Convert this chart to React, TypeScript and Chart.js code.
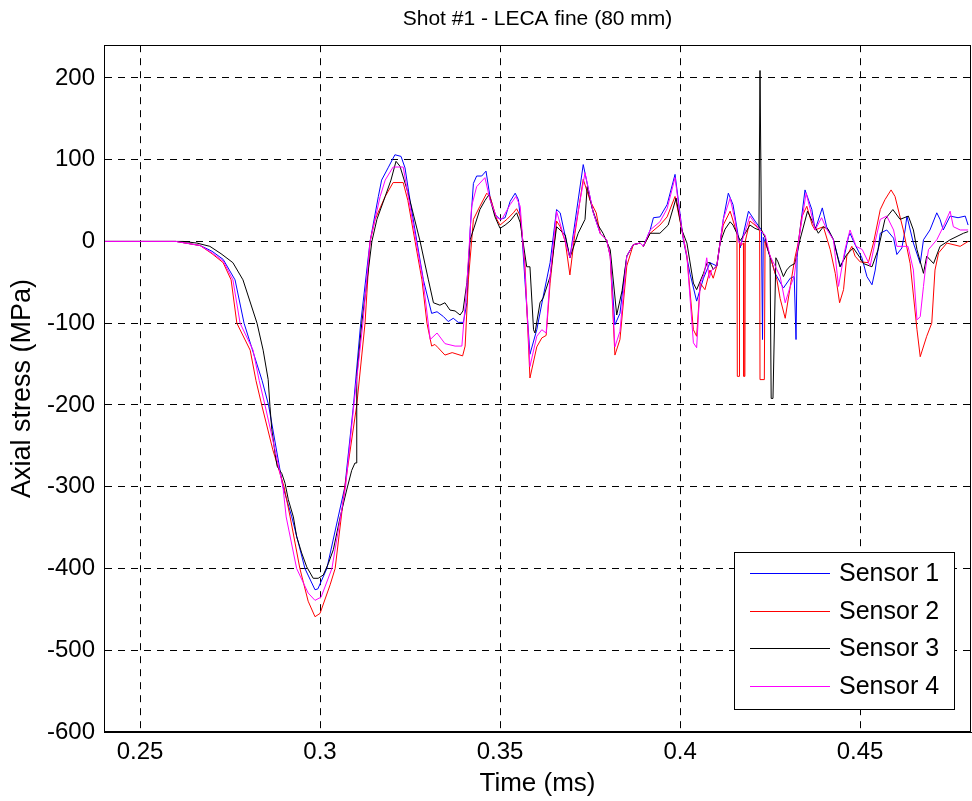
import React, { useEffect, useRef } from "react";
import { Chart, registerables } from "chart.js";

Chart.register(...registerables);

const chartTitle = "Shot #1 - LECA fine (80 mm)";
const xTitle = "Time (ms)";
const yTitle = "Axial stress (MPa)";
const seriesNames = ["Sensor 1", "Sensor 2", "Sensor 3", "Sensor 4"];
const seriesColors = ["#0000ff", "#ff0000", "#000000", "#ff00ff"];

const xTicks = [0.25, 0.3, 0.35, 0.4, 0.45];
const xTickLabels = ["0.25", "0.3", "0.35", "0.4", "0.45"];
const yTicks = [-600, -500, -400, -300, -200, -100, 0, 100, 200];
const yTickLabels = ["-600", "-500", "-400", "-300", "-200", "-100", "0", "100", "200"];

// Sensor 1
const time1 = [0.24, 0.26, 0.2667, 0.27, 0.2731, 0.2764, 0.2789, 0.2839, 0.2857, 0.2897, 0.2921, 0.2958, 0.2986, 0.2994, 0.3019, 0.3069, 0.3093, 0.3113, 0.3139, 0.3162, 0.3171, 0.3189, 0.3208, 0.3225, 0.3236, 0.325, 0.3269, 0.3287, 0.331, 0.3325, 0.3343, 0.3356, 0.337, 0.3384, 0.3398, 0.3408, 0.3417, 0.3426, 0.3435, 0.3449, 0.3461, 0.3472, 0.3486, 0.35, 0.3514, 0.3528, 0.3542, 0.3551, 0.356, 0.3569, 0.3583, 0.3602, 0.362, 0.3639, 0.3657, 0.3667, 0.3694, 0.3731, 0.3759, 0.3778, 0.3796, 0.3806, 0.3819, 0.3833, 0.3852, 0.387, 0.3889, 0.3898, 0.3917, 0.3926, 0.3944, 0.3964, 0.3986, 0.4009, 0.4028, 0.4046, 0.4065, 0.4083, 0.4102, 0.4111, 0.412, 0.4134, 0.4147, 0.4167, 0.419, 0.4208, 0.4226, 0.4229, 0.4231, 0.425, 0.4264, 0.4287, 0.4306, 0.4317, 0.4322, 0.4325, 0.4329, 0.4347, 0.4366, 0.4375, 0.4395, 0.4407, 0.4426, 0.444, 0.4446, 0.4454, 0.4468, 0.4472, 0.4486, 0.4505, 0.4519, 0.4533, 0.4542, 0.4556, 0.4574, 0.4593, 0.4602, 0.4616, 0.4625, 0.463, 0.4648, 0.4667, 0.4676, 0.4694, 0.4713, 0.4722, 0.4731, 0.475, 0.4772, 0.4792, 0.48];
const stress1 = [0, 0, -5, -12, -22, -47, -100, -170, -200, -300, -336, -400, -426, -425, -400, -300, -200, -100, 0, 55, 75, 90, 106, 104, 90, 50, 0, -47, -88, -86, -92, -98, -94, -99, -99, -75, 14, 71, 80, 80, 86, 55, 33, 27, 29, 49, 59, 51, 14, -47, -138, -108, -67, -26, 39, 35, -20, 94, 35, 10, 2, -18, -102, -88, -18, -4, -2, -6, 14, 29, 30, 45, 82, 2, -40, -73, -45, -26, -30, -2, 27, 59, 45, -8, 37, 25, 14, -120, 5, -18, -39, -57, -45, -43, -120, -20, 0, 63, 39, 14, 41, 18, 2, -22, -31, -22, 6, 10, -4, -20, -43, -53, -35, 10, 14, 4, -16, -8, 14, 31, -2, -27, 2, 14, 35, 27, 14, 31, 29, 31, 20];

// Sensor 2
const time2 = [0.24, 0.26, 0.2667, 0.27, 0.2731, 0.2753, 0.2769, 0.2806, 0.2822, 0.2838, 0.2869, 0.29, 0.2917, 0.2944, 0.2967, 0.2986, 0.3, 0.3028, 0.3042, 0.3069, 0.3102, 0.3125, 0.3139, 0.3153, 0.3181, 0.3203, 0.3231, 0.3244, 0.3264, 0.3283, 0.3297, 0.331, 0.3319, 0.3328, 0.3347, 0.3367, 0.3396, 0.3403, 0.3412, 0.3426, 0.3444, 0.3463, 0.3472, 0.3491, 0.35, 0.3519, 0.3537, 0.3546, 0.3556, 0.3569, 0.3583, 0.3602, 0.3616, 0.3628, 0.3639, 0.3657, 0.3667, 0.3681, 0.3694, 0.3708, 0.3731, 0.375, 0.3767, 0.3778, 0.3796, 0.3806, 0.3819, 0.3833, 0.3852, 0.387, 0.3889, 0.3898, 0.3917, 0.3944, 0.3964, 0.3986, 0.4005, 0.4019, 0.4037, 0.4046, 0.4056, 0.4069, 0.4083, 0.4092, 0.4102, 0.4111, 0.412, 0.4139, 0.4158, 0.4159, 0.4164, 0.4165, 0.4169, 0.4176, 0.4177, 0.418, 0.4181, 0.4194, 0.4208, 0.4221, 0.4222, 0.4234, 0.4236, 0.425, 0.4269, 0.4278, 0.4292, 0.4306, 0.4319, 0.4329, 0.4338, 0.4352, 0.4367, 0.4375, 0.4398, 0.4417, 0.4431, 0.4443, 0.4454, 0.4463, 0.4477, 0.4486, 0.45, 0.4523, 0.4537, 0.4556, 0.4569, 0.4586, 0.4597, 0.462, 0.4639, 0.4658, 0.4667, 0.4685, 0.4699, 0.4708, 0.4718, 0.4741, 0.4778, 0.48];
const stress2 = [0, 0, -5, -15, -26, -47, -100, -133, -170, -200, -255, -300, -337, -400, -440, -459, -455, -420, -400, -300, -200, -100, 0, 27, 55, 72, 72, 50, 0, -47, -100, -128, -126, -130, -139, -136, -140, -128, -47, 27, 43, 59, 55, 27, 20, 27, 35, 40, 31, -27, -167, -129, -118, -115, -51, 25, 18, 0, -41, 10, 76, 50, 35, 10, 2, -18, -139, -120, -30, -4, -2, -6, 10, 20, 30, 55, 14, -18, -108, -116, -51, -59, -35, -45, -30, -2, 20, 37, 10, -165, -165, 0, -5, -2, -165, -165, 0, 25, 20, 14, -169, -169, 0, -18, -47, -70, -94, -55, -20, 0, 30, 43, 20, 14, 18, -10, -39, -75, -59, -18, -6, -18, -25, -26, -2, 39, 51, 63, 55, 14, -27, -108, -141, -116, -100, -35, -14, -2, -6, 0];

// Sensor 3
const time3 = [0.24, 0.262, 0.2658, 0.2694, 0.2725, 0.2758, 0.2786, 0.2825, 0.2842, 0.2856, 0.2861, 0.2866, 0.2875, 0.2881, 0.2894, 0.2903, 0.2912, 0.2926, 0.2935, 0.2949, 0.2963, 0.2981, 0.2995, 0.3009, 0.3023, 0.3037, 0.3056, 0.3074, 0.3088, 0.3097, 0.3101, 0.3102, 0.3116, 0.3144, 0.3158, 0.3181, 0.3197, 0.3211, 0.3222, 0.3244, 0.3261, 0.3278, 0.3301, 0.3315, 0.3333, 0.3347, 0.3361, 0.3375, 0.3389, 0.3397, 0.3408, 0.3417, 0.3444, 0.3458, 0.3469, 0.3486, 0.35, 0.3514, 0.3528, 0.3546, 0.3556, 0.3574, 0.3583, 0.3593, 0.3597, 0.3611, 0.362, 0.3639, 0.3657, 0.3681, 0.3694, 0.3717, 0.3736, 0.3742, 0.3756, 0.3772, 0.3786, 0.3806, 0.3824, 0.3839, 0.3852, 0.387, 0.3889, 0.3898, 0.3917, 0.3944, 0.3967, 0.3989, 0.4005, 0.4019, 0.4037, 0.4046, 0.4065, 0.4075, 0.4083, 0.4092, 0.4102, 0.4111, 0.4125, 0.4139, 0.4147, 0.4167, 0.4181, 0.4194, 0.4208, 0.4219, 0.4222, 0.4226, 0.4236, 0.4244, 0.425, 0.4253, 0.4258, 0.4266, 0.4272, 0.4287, 0.4296, 0.4306, 0.4319, 0.4333, 0.4354, 0.4372, 0.4384, 0.4398, 0.4411, 0.4426, 0.4444, 0.4463, 0.4481, 0.45, 0.4509, 0.4533, 0.455, 0.4569, 0.4591, 0.4611, 0.4634, 0.4648, 0.4658, 0.4676, 0.4685, 0.4704, 0.4722, 0.475, 0.4787, 0.48];
const stress3 = [0, 0, -2, -6, -15, -26, -47, -100, -133, -169, -202, -230, -259, -275, -284, -296, -316, -337, -361, -381, -398, -412, -412, -408, -394, -377, -337, -304, -280, -271, -271, -165, -100, 0, 27, 55, 75, 98, 92, 60, 30, 0, -47, -75, -78, -75, -84, -85, -90, -85, -50, 2, 39, 50, 57, 30, 16, 20, 25, 35, 23, -31, -31, -108, -112, -75, -69, -43, 18, 8, -20, 10, 27, 67, 40, 20, 10, -10, -90, -60, -18, -4, -2, -6, 10, 10, 20, 53, 14, -2, -51, -59, -39, -26, -26, -34, -30, -2, 15, 24, 20, 1, 10, 20, 16, 14, 209, 14, 5, -10, -20, -192, -192, -20, -25, -43, -35, -30, -27, 2, 37, 20, 10, 18, 15, 2, -31, -16, -8, -20, -27, -31, -10, 27, 39, 27, 31, 14, -10, -39, -18, -27, -6, 2, 10, 12];

// Sensor 4
const time4 = [0.24, 0.26, 0.2667, 0.27, 0.2731, 0.2758, 0.2778, 0.2814, 0.2831, 0.2847, 0.2875, 0.2897, 0.2906, 0.2935, 0.2967, 0.2986, 0.3003, 0.3033, 0.3071, 0.3094, 0.3119, 0.3139, 0.3167, 0.3181, 0.3203, 0.3231, 0.3247, 0.3267, 0.3286, 0.3306, 0.3325, 0.3347, 0.3375, 0.3394, 0.3408, 0.3421, 0.3435, 0.3458, 0.3472, 0.3491, 0.3505, 0.3528, 0.3544, 0.3556, 0.3569, 0.3583, 0.3602, 0.3616, 0.3628, 0.3639, 0.3657, 0.3681, 0.3694, 0.3736, 0.3759, 0.3778, 0.3796, 0.3806, 0.3819, 0.3833, 0.3852, 0.387, 0.3889, 0.3898, 0.3917, 0.3944, 0.3964, 0.3986, 0.4005, 0.4019, 0.4037, 0.4046, 0.4056, 0.4067, 0.4074, 0.4081, 0.4088, 0.4102, 0.4111, 0.412, 0.4139, 0.4153, 0.4162, 0.4169, 0.4194, 0.4208, 0.4222, 0.4236, 0.425, 0.4264, 0.4278, 0.4292, 0.4306, 0.4317, 0.4329, 0.435, 0.4361, 0.4375, 0.4393, 0.4407, 0.4426, 0.444, 0.4458, 0.4472, 0.4489, 0.4506, 0.4528, 0.4542, 0.4556, 0.4574, 0.4593, 0.4602, 0.4633, 0.4648, 0.4658, 0.4667, 0.4676, 0.4681, 0.469, 0.4713, 0.4731, 0.475, 0.4759, 0.4778, 0.48];
const stress4 = [0, 0, -5, -14, -24, -47, -100, -133, -170, -200, -255, -300, -337, -400, -430, -439, -435, -400, -300, -200, -100, 0, 55, 75, 91, 91, 50, 0, -47, -120, -112, -125, -128, -128, -51, 43, 67, 78, 51, 29, 27, 45, 55, 43, -35, -153, -116, -108, -112, -43, 37, 0, -20, 84, 35, 10, 2, -18, -129, -110, -18, -4, -2, -6, 14, 24, 40, 78, 14, -18, -124, -130, -51, -40, -20, -45, -35, -30, -2, 27, 53, 25, 0, -4, 31, 22, 14, 8, -18, -30, -43, -75, -55, -43, 0, 59, 40, 14, 29, 15, 2, -55, -10, 14, -6, -10, -30, 0, 27, 31, 14, -6, -6, -35, -96, -92, -55, -35, -10, 2, 18, 37, 18, 14, 14];

const seriesTimes = [time1, time2, time3, time4];
const seriesStress = [stress1, stress2, stress3, stress4];

const FONT = "'Liberation Sans', Arial, Helvetica, sans-serif";

const framePlugin = {
  id: "frameAndLegend",
  afterDraw(chart: any) {
    const { ctx, chartArea } = chart;
    const { left, top, right, bottom } = chartArea;
    ctx.save();
    ctx.setLineDash([]);
    ctx.strokeStyle = "#000";
    ctx.lineWidth = 1;
    ctx.strokeRect(Math.round(left) + 0.5, Math.round(top) + 0.5, Math.round(right - left) - 1, Math.round(bottom - top) - 1);

    // legend
    const boxW = 220;
    const boxH = 157;
    const bx = Math.round(right) - 17 - boxW;
    const by = Math.round(bottom) - 23 - boxH;
    ctx.fillStyle = "#fff";
    ctx.fillRect(bx, by, boxW, boxH);
    ctx.strokeStyle = "#000";
    ctx.strokeRect(bx + 0.5, by + 0.5, boxW, boxH);
    ctx.font = `25px ${FONT}`;
    ctx.textBaseline = "middle";
    ctx.textAlign = "left";
    chart.data.datasets.forEach((ds: any, i: number) => {
      const yy = Math.round(by + 21 + i * 37.7) + 0.5;
      ctx.beginPath();
      ctx.strokeStyle = seriesColors[i];
      ctx.lineWidth = 1;
      ctx.moveTo(bx + 16, yy);
      ctx.lineTo(bx + 96, yy);
      ctx.stroke();
      ctx.fillStyle = "#000";
      ctx.fillText(ds.label, bx + 105, yy + 1);
    });
    ctx.restore();
  },
};

export default function App() {
  const canvasRef = useRef<HTMLCanvasElement | null>(null);

  useEffect(() => {
    if (!canvasRef.current) return;
    const datasets = seriesNames.map((name, i) => ({
      label: name,
      data: seriesTimes[i].map((t, j) => ({ x: t, y: seriesStress[i][j] })),
      borderColor: seriesColors[i],
      backgroundColor: seriesColors[i],
      borderWidth: 1,
      pointRadius: 0,
      tension: 0,
      fill: false,
      order: 3 - i,
    }));
    const chart = new Chart(canvasRef.current, {
      type: "line",
      data: { datasets },
      options: {
        animation: false,
        responsive: false,
        devicePixelRatio: 1,
        parsing: false as any,
        normalized: true,
        layout: { padding: { left: 0, right: 1, top: 0, bottom: 0 } },
        plugins: {
          legend: { display: false },
          tooltip: { enabled: false },
          title: {
            display: true,
            text: chartTitle,
            fullSize: false,
            color: "#000",
            font: { family: FONT, size: 21, weight: "normal" },
            padding: { top: 7, bottom: 13 },
          },
        },
        scales: {
          x: {
            type: "linear",
            min: 0.24,
            max: 0.4808,
            afterBuildTicks: (scale: any) => {
              scale.ticks = xTicks.map((v) => ({ value: v }));
            },
            afterFit: (scale: any) => {
              scale.height = 69;
            },
            ticks: {
              autoSkip: false,
              maxRotation: 0,
              padding: 6,
              color: "#000",
              font: { family: FONT, size: 24 },
              callback: (_v: any, idx: number) => xTickLabels[idx],
            },
            grid: {
              color: "#000",
              lineWidth: 1,
              drawTicks: false,
            },
            border: { display: true, color: "#000", width: 1, dash: [7, 6] },
            title: {
              display: true,
              text: xTitle,
              color: "#000",
              font: { family: FONT, size: 26 },
              padding: { top: 0, bottom: 2 },
            },
          },
          y: {
            type: "linear",
            min: -600,
            max: 240,
            afterBuildTicks: (scale: any) => {
              scale.ticks = yTicks.map((v) => ({ value: v }));
            },
            afterFit: (scale: any) => {
              scale.width = 104;
            },
            ticks: {
              autoSkip: false,
              padding: 9,
              color: "#000",
              font: { family: FONT, size: 24 },
              callback: (_v: any, idx: number) => yTickLabels[idx],
            },
            grid: {
              color: "#000",
              lineWidth: 1,
              drawTicks: false,
            },
            border: { display: true, color: "#000", width: 1, dash: [7, 6] },
            title: {
              display: true,
              text: yTitle,
              color: "#000",
              font: { family: FONT, size: 27 },
              padding: { top: 6, bottom: 0 },
            },
          },
        },
      },
      plugins: [framePlugin],
    });
    return () => chart.destroy();
  }, []);

  return (
    <div style={{ position: "absolute", left: 0, top: 0, width: 972, height: 801, overflow: "hidden", background: "#fff" }}>
      <canvas ref={canvasRef} width={972} height={801} style={{ width: 972, height: 801, display: "block" }} />
    </div>
  );
}
